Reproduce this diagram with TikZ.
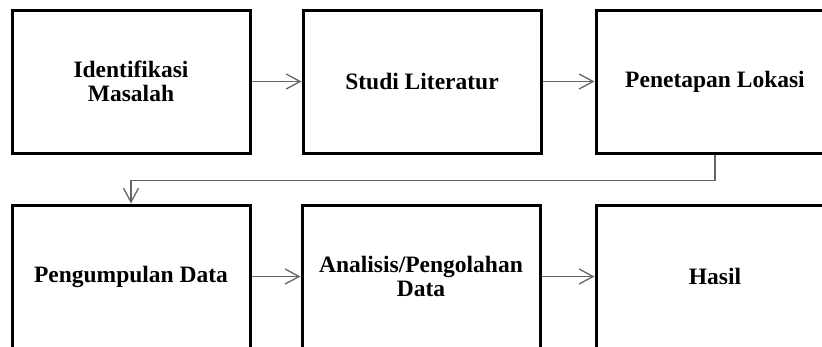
\documentclass[tikz,border=0pt]{standalone}
\usepackage{fontspec}
\setmainfont{Liberation Serif}
\usetikzlibrary{arrows.meta}

\tikzset{
  tahap/.style={draw, line width=3pt, minimum width=238pt, minimum height=143pt,
    inner sep=0pt, align=center, font=\fontsize{23.5}{24.5}\selectfont\bfseries},
  panah/.style={draw=black!60, line width=1.3pt,
    -{Straight Barb[length=14pt,width=15pt,line width=1.3pt]}},
}

\begin{document}
\begin{tikzpicture}[x=1pt,y=-1pt]
% Fix the canvas to the page size
\useasboundingbox (0,0) rectangle (822,346);
\clip (0,0) rectangle (822,346);

% Top row of steps
\node[tahap] (identifikasi) at (131,81.5) {Identifikasi\\Masalah};
\node[tahap] (studi) at (422,81.5) {Studi Literatur};
\node[tahap] (lokasi) at (715,81.5) {Penetapan Lokasi};

% Bottom row of steps
\node[tahap] (pengumpulan) at (131,276.5) {Pengumpulan Data};
\node[tahap] (analisis) at (421,276.5) {Analisis/Pengolahan\\Data};
\node[tahap] (hasil) at (715,276.5) {Hasil};

% Arrows between the steps
\draw[panah] (identifikasi) -- (studi);
\draw[panah] (studi) -- (lokasi);
\draw[panah] (lokasi.south) -- ++(0,26) -| (pengumpulan.north);
\draw[panah] (pengumpulan) -- (analisis);
\draw[panah] (analisis) -- (hasil);
\end{tikzpicture}
\end{document}
